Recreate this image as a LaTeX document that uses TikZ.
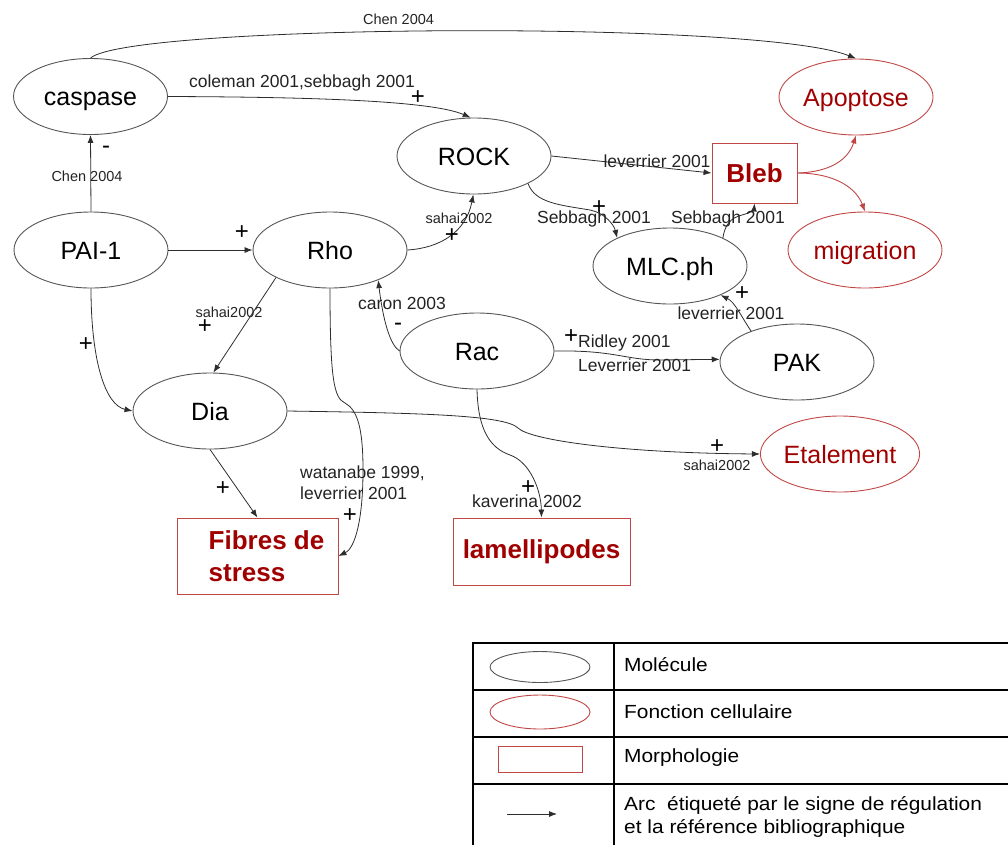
\documentclass[tikz,border=0pt]{standalone}
\usepackage{fontspec}
\setmainfont{Liberation Sans}
\newfontfamily\legfont[FakeStretch=1.1]{Liberation Sans}
\usetikzlibrary{shapes.geometric,arrows.meta}
\definecolor{edgegray}{RGB}{45,45,45}
\definecolor{ellgray}{RGB}{85,85,85}
\definecolor{fnred}{RGB}{192,70,70}
\definecolor{txtred}{RGB}{160,0,0}
\definecolor{labgray}{RGB}{35,35,35}
\begin{document}
\begin{tikzpicture}[x=1pt,y=-1pt,
  mol/.style={ellipse,draw=ellgray,line width=0.9pt,minimum width=154pt,minimum height=76pt,inner sep=0pt,text height=18pt,text depth=0pt,font=\fontsize{25}{28}\selectfont},
  fn/.style={ellipse,draw=fnred,line width=0.9pt,minimum width=154pt,minimum height=76pt,inner sep=0pt,text height=18pt,text depth=0pt,text=txtred,font=\fontsize{25}{28}\selectfont},
  morph/.style={rectangle,draw=fnred,line width=0.9pt,inner sep=0pt,text=txtred,font=\bfseries\fontsize{26}{32}\selectfont},
  arc/.style={draw=edgegray,line width=0.8pt,-{Latex[length=8pt,width=6pt]}},
  redarc/.style={draw=fnred,line width=0.9pt,-{Latex[length=8pt,width=6pt]}},
  lab/.style={text=labgray,font=\fontsize{17.5}{21}\selectfont,inner sep=0pt},
  slab/.style={text=labgray,font=\fontsize{14.5}{17}\selectfont,inner sep=0pt},
  sign/.style={font=\fontsize{24}{24}\selectfont,inner sep=0pt},
  legtext/.style={anchor=west,font=\legfont\fontsize{19}{22}\selectfont,inner sep=0pt},
]
\useasboundingbox (0,0) rectangle (1008,844);
\clip (0,0) rectangle (1008,844);

% nodes
\node[mol] (caspase) at (90.5,96.5) {caspase};
\node[mol] (pai) at (91,250) {PAI-1};
\node[mol] (rho) at (330,250) {Rho};
\node[mol] (rock) at (474,156) {ROCK};
\node[mol] (dia) at (210,411) {Dia};
\node[mol] (rac) at (477,351) {Rac};
\node[mol] (mlc) at (670,266) {MLC.ph};
\node[mol] (pak) at (797,362) {PAK};
\node[fn] (apop) at (856,97) {Apoptose};
\node[fn] (migr) at (865,250) {migration};
\node[fn] (etal) at (840,454) {Etalement};
\node[morph,minimum width=85pt,minimum height=60pt] (bleb) at (754.5,173) {Bleb};
\node[morph,minimum width=161pt,minimum height=76pt,align=left] (fibres) at (257.5,556)
  {\hspace*{18pt}Fibres de\\\hspace*{18pt}stress};
\node[morph,minimum width=177pt,minimum height=67pt] (lamel) at (541.5,551.5) {lamellipodes};

% edges
\draw[arc] (caspase.north) .. controls (130,24) and (760,20) .. (apop.north);
\draw[arc] (caspase.east) .. controls (300,97) and (430,100) .. (rock.95);
\draw[arc] (pai.north) -- (caspase.south);
\draw[arc] (pai.east) -- (rho.west);
\draw[arc] (rho.east) .. controls (440,248) and (466,232) .. (rock.-91);
\draw[arc] (rho.207) -- (dia.85);
\draw[arc] (pai.south) .. controls (91,360) and (105,405) .. (dia.west);
\draw[arc] (rho.south) .. controls (330,380) and (334,398) .. (345,403)
  .. controls (358,410) and (363,430) .. (363,470)
  .. controls (363,520) and (355,548) .. (fibres.east);
\draw[arc] (rac.west) .. controls (390,345) and (383,320) .. (rho.-32);
\draw[arc] (dia.south) -- (fibres.north);
\draw[arc] (dia.east) .. controls (420,413) and (505,415) .. (518,428)
  .. controls (530,440) and (620,453) .. (etal.west);
\draw[arc] (rac.south) .. controls (478,430) and (490,448) .. (510,455)
  .. controls (530,462) and (541,490) .. (lamel.north);
\draw[arc] (rac.east) .. controls (615,350) and (625,360) .. (660,360) -- (pak.178);
\draw[arc] (pak.146) .. controls (742,318) and (735,302) .. (mlc.-30);
\draw[arc] (rock.east) -- (bleb.west);
\draw[arc] (rock.-27) .. controls (535,203) and (560,205) .. (590,210)
  .. controls (605,213) and (614,225) .. (mlc.152);
\draw[arc] (mlc.28) .. controls (725,225) and (730,218) .. (742,215)
  .. controls (750,213) and (754,210) .. (bleb.south);
\draw[redarc] (bleb.east) .. controls (830,172) and (848,160) .. (apop.south);
\draw[redarc] (bleb.east) .. controls (830,173) and (855,185) .. (migr.north);

% labels and signs
\node[slab] (l1) at (398.5,19) {Chen 2004};
\node[lab] (l2) at (302,83) {coleman 2001,sebbagh 2001};
\node[sign] (s2) at (418,98) {+};
\node[sign] (s3) at (106,150) {-};
\node[slab] (l3) at (87,176) {Chen 2004};
\node[sign] (s4) at (242,233) {+};
\node[slab] (l5) at (459,218) {sahai2002};
\node[sign] (s5) at (452,236) {+};
\node[slab] (l6) at (229,312) {sahai2002};
\node[sign] (s6) at (205,327) {+};
\node[sign] (s7) at (86,345) {+};
\node[lab,align=left,anchor=west] (l8) at (300,482.5) {watanabe 1999,\\leverrier 2001};
\node[sign] (s8) at (350,516) {+};
\node[lab] (l9) at (402,303) {caron 2003};
\node[sign] (s9) at (398,327) {-};
\node[sign] (s10) at (223,489) {+};
\node[sign] (s11) at (717,447) {+};
\node[slab] (l11) at (717,465) {sahai2002};
\node[sign] (s12) at (528,488) {+};
\node[lab] (l12) at (527,501) {kaverina 2002};
\node[sign] (s13) at (571,337) {+};
\node[lab,anchor=west] (l13a) at (578,343) {Ridley 2001};
\node[lab,anchor=west] (l13b) at (578,365) {Leverrier 2001};
\node[sign] (s14) at (742,294) {+};
\node[lab] (l14) at (731,313) {leverrier 2001};
\node[lab] (l15) at (657,161) {leverrier 2001};
\node[sign] (s16) at (599,208) {+};
\node[lab] (l16) at (594,219) {Sebbagh 2001};
\node[lab] (l17) at (728,219) {Sebbagh 2001};

% legend
\draw[line width=1.2pt] (473,690) -- (1010,690);
\draw[line width=1.2pt] (473,737) -- (1010,737);
\draw[line width=1.2pt] (473,784) -- (1010,784);
\draw[line width=1.2pt] (614,643) -- (614,846);
\draw[line width=2.6pt] (1012,643) -- (473,643) -- (473,848);
\node[ellipse,draw=ellgray,line width=0.9pt,minimum width=100pt,minimum height=31pt,inner sep=0pt] (legmol) at (540,667) {};
\node[ellipse,draw=fnred,line width=0.9pt,minimum width=100pt,minimum height=34pt,inner sep=0pt] (legfn) at (540,712) {};
\node[rectangle,draw=fnred,line width=0.9pt,minimum width=84pt,minimum height=26pt,inner sep=0pt] (legmorph) at (540,759) {};
\coordinate (la1) at (507,814);
\coordinate (la2) at (557,814);
\draw[arc] (la1) -- (la2);
\node[legtext] (t1) at (624,665) {Molécule};
\node[legtext] (t2) at (624,712) {Fonction cellulaire};
\node[legtext] (t3) at (624,758) {Morphologie};
\node[legtext] (t4) at (624,805) {Arc\ \ étiqueté par le signe de régulation};
\node[legtext] (t5) at (624,828) {et la référence bibliographique};
\end{tikzpicture}
\end{document}
